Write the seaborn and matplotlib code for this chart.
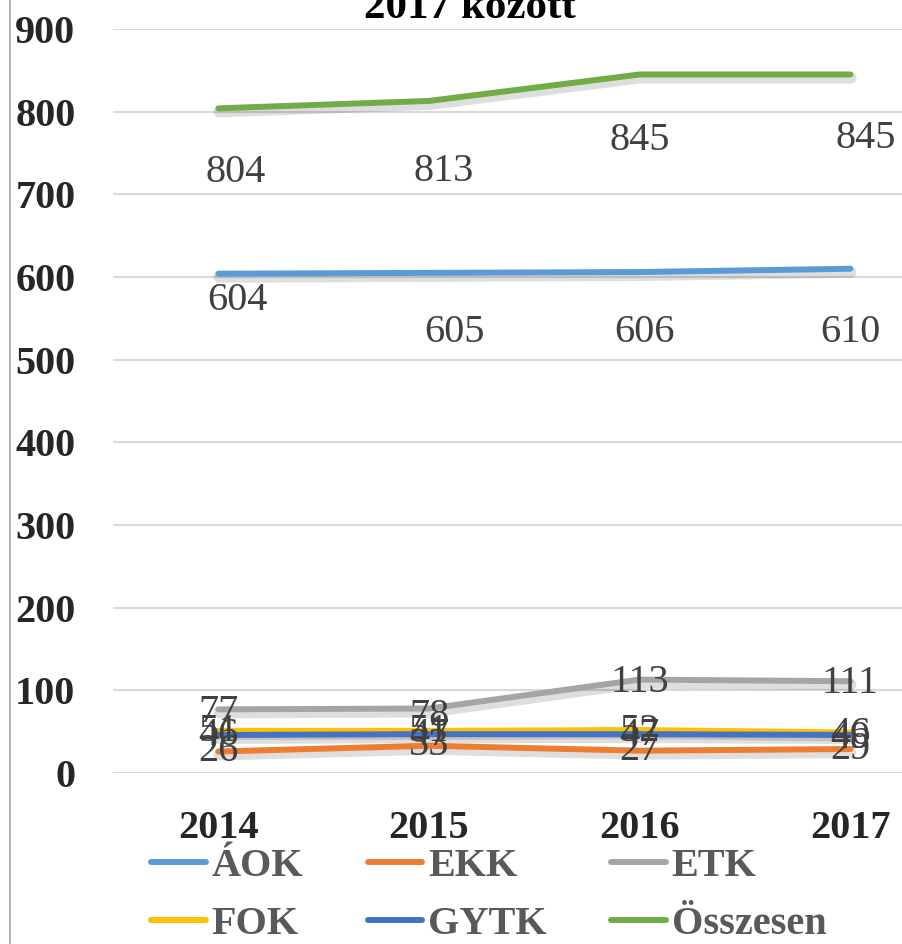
import pandas as pd
import matplotlib.pyplot as plt
import matplotlib.patheffects as pe
from matplotlib.lines import Line2D
import seaborn as sns

# Data
YEARS = [2014, 2015, 2016, 2017]
SERIES = ["ÁOK", "EKK", "ETK", "FOK", "GYTK", "Összesen"]
AOK = [604, 605, 606, 610]
EKK = [26, 33, 27, 29]
ETK = [77, 78, 113, 111]
FOK = [51, 51, 52, 49]
GYTK = [46, 47, 47, 46]
OSSZESEN = [804, 813, 845, 845]
TITLE = "2017 között"

COLORS = ["#5B9BD5", "#ED7D31", "#A5A5A5", "#FFC000", "#4472C4", "#70AD47"]

# label offsets in pixels (dx, dy) per series, per year
LABEL_OFFSETS = {
    "ÁOK": [(19, -27), (25, -60), (5, -60), (0, -64)],
    "EKK": [(0, 0), (0, 0), (0, 0), (0, 0)],
    "ETK": [(0, -3), (0, -8), (0, -3), (0, -2)],
    "FOK": [(0, -1), (0, -1), (0, -1), (0, -6)],
    "GYTK": [(0, -1), (0, -1), (0, -1), (0, 0)],
    "Összesen": [(17, -64), (15, -71), (0, -66), (15, -64)],
}

values = [AOK, EKK, ETK, FOK, GYTK, OSSZESEN]
rows = []
for name, vals in zip(SERIES, values):
    for y, v in zip(YEARS, vals):
        rows.append({"Kar": name, "Év": y, "Érték": v})
df = pd.DataFrame(rows)

sns.set_theme(style="white")
plt.rcParams['font.family'] = ['Liberation Serif', 'DejaVu Serif']

fig = plt.figure(figsize=(9.03, 9.44), dpi=100)
ax = fig.add_axes([113 / 903, 1 - 773 / 944, 1 - 113 / 903, (773 - 29) / 944])

shadow = [pe.SimpleLineShadow(offset=(0.5, -2.5), shadow_color="black", alpha=0.13, linewidth=8),
          pe.Normal()]
sns.lineplot(data=df, x="Év", y="Érték", hue="Kar", hue_order=SERIES,
             palette=COLORS, linewidth=4.3, ax=ax, legend=False,
             path_effects=shadow)
for line in ax.lines:
    line.set_solid_capstyle("round")

for name in SERIES:
    sub = df[df["Kar"] == name]
    for (x, v), off in zip(zip(sub["Év"], sub["Érték"]), LABEL_OFFSETS[name]):
        ax.annotate(str(v), (x, v), xytext=off, textcoords="offset pixels",
                    ha="center", va="center", fontsize=29, color="#404040")

ax.set_xlim(2013.5, 2017.25)
ax.set_ylim(0, 900)
ax.set_yticks(range(0, 901, 100))
ax.set_xticks(YEARS)
ax.set_xticklabels([str(y) for y in YEARS], fontsize=29, fontweight="bold")
ax.set_yticklabels([str(t) for t in range(0, 901, 100)], fontsize=29, fontweight="bold")
ax.tick_params(axis="x", pad=27, length=0)
ax.tick_params(axis="y", pad=27, length=0)
ax.set_xlabel("")
ax.set_ylabel("")
ax.grid(axis="y", color="#D9D9D9", linewidth=1.5)
ax.set_axisbelow(True)
for s in ax.spines.values():
    s.set_visible(False)

fig.text(470 / 903, 1 - 8 / 944, TITLE, ha="center", va="center",
         fontsize=31, fontweight="bold", color="black")

# chart border at left edge
fig.add_artist(Line2D([10 / 903, 10 / 903], [0, 1], color="#A6A6A6", linewidth=1.2))

# legend filled row by row (matplotlib fills columns first)
order = [0, 3, 1, 4, 2, 5]
handles = [Line2D([], [], color=COLORS[i], linewidth=4.3, solid_capstyle="round") for i in order]
labels = [SERIES[i] for i in order]
leg = fig.legend(handles, labels, loc="upper left", bbox_to_anchor=(115 / 903, 1 - 812 / 944),
                 ncol=3, frameon=False, handlelength=1.35, handletextpad=0.15,
                 columnspacing=1.6, labelspacing=0.5, prop={"weight": "bold", "size": 29})
for t in leg.get_texts():
    t.set_color("#595959")

fig.savefig("out.png", dpi=100)
